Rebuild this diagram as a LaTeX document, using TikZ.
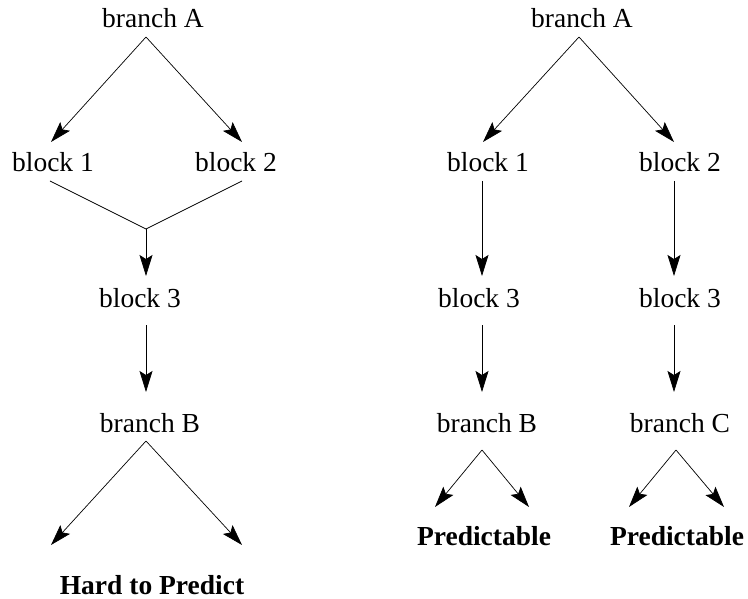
\documentclass[tikz,border=0pt]{standalone}
\usepackage{fontspec}
\setmainfont{Liberation Serif}
\usetikzlibrary{arrows.meta}
\begin{document}
\begin{tikzpicture}[x=1pt,y=-1pt,
  lbl/.style={anchor=base,inner sep=0pt,font=\fontsize{27.5}{30}\selectfont},
  res/.style={anchor=base,inner sep=0pt,font=\fontsize{27.5}{30}\selectfont\bfseries},
  edge/.style={line width=0.7pt},
  arr/.style={edge,-{Stealth[length=21pt,width=13pt,inset=4pt]}}]
\useasboundingbox (0,0) rectangle (748,599);
% left tree
\node[lbl] (LbrA) at (153,28) {branch A};
\node[lbl] (Lb1) at (53,172) {block 1};
\node[lbl] (Lb2) at (236,172) {block 2};
\node[lbl] (Lb3) at (140,307) {block 3};
\node[lbl] (LbrB) at (150,432) {branch B};
\node[res] (Lhard) at (152,594) {Hard to Predict};
\coordinate (LA) at (146,37);
\coordinate (LAl) at (51,142);
\coordinate (LAr) at (242,142);
\coordinate (L1s) at (50,181);
\coordinate (L2s) at (242,181);
\coordinate (Lj) at (146,229);
\coordinate (Lj2) at (146,276);
\coordinate (L3s) at (146,325);
\coordinate (L3e) at (146,392);
\coordinate (LB) at (146,441);
\coordinate (LBl) at (51,545);
\coordinate (LBr) at (242,545);
\draw[arr] (LA) -- (LAl);
\draw[arr] (LA) -- (LAr);
\draw[edge] (L1s) -- (Lj) -- (L2s);
\draw[arr] (Lj) -- (Lj2);
\draw[arr] (L3s) -- (L3e);
\draw[arr] (LB) -- (LBl);
\draw[arr] (LB) -- (LBr);
% right tree
\node[lbl] (RbrA) at (582,28) {branch A};
\node[lbl] (Rb1) at (488,172) {block 1};
\node[lbl] (Rb2) at (680,172) {block 2};
\node[lbl] (Rb3a) at (479,307) {block 3};
\node[lbl] (Rb3b) at (680,307) {block 3};
\node[lbl] (RbrB) at (487,432) {branch B};
\node[lbl] (RbrC) at (680,432) {branch C};
\node[res] (Rp1) at (484,545) {Predictable};
\node[res] (Rp2) at (677,545) {Predictable};
\coordinate (RA) at (579,37);
\coordinate (RAl) at (483,142);
\coordinate (RAr) at (674,142);
\coordinate (R1s) at (482,181);
\coordinate (R1e) at (482,276);
\coordinate (R2s) at (674,181);
\coordinate (R2e) at (674,276);
\coordinate (R3as) at (482,325);
\coordinate (R3ae) at (482,392);
\coordinate (R3bs) at (674,325);
\coordinate (R3be) at (674,392);
\coordinate (RB) at (482,450);
\coordinate (RBl) at (435,507);
\coordinate (RBr) at (529,507);
\coordinate (RC) at (676,450);
\coordinate (RCl) at (629,507);
\coordinate (RCr) at (724,507);
\draw[arr] (RA) -- (RAl);
\draw[arr] (RA) -- (RAr);
\draw[arr] (R1s) -- (R1e);
\draw[arr] (R2s) -- (R2e);
\draw[arr] (R3as) -- (R3ae);
\draw[arr] (R3bs) -- (R3be);
\draw[arr] (RB) -- (RBl);
\draw[arr] (RB) -- (RBr);
\draw[arr] (RC) -- (RCl);
\draw[arr] (RC) -- (RCr);
\end{tikzpicture}
\end{document}
